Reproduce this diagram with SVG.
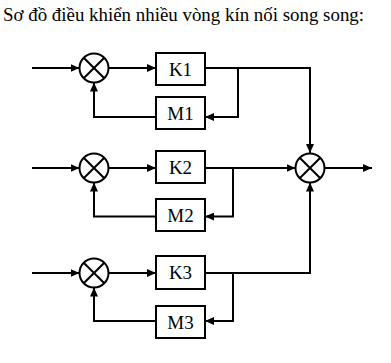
<svg xmlns="http://www.w3.org/2000/svg" width="391" height="363" viewBox="0 0 391 363">
<style>
.ln{fill:none;stroke:#000;stroke-width:2}
.bx{fill:#fff;stroke:#000;stroke-width:2}
.sum{fill:#fff;stroke:#000;stroke-width:2}
.x{stroke:#000;stroke-width:2}
.lb{font-family:"Liberation Serif","Times New Roman",serif;font-size:19px;text-anchor:middle;fill:#000}
.tt{font-family:"Liberation Serif","Times New Roman",serif;font-size:18.9px;fill:#000}
</style>
<defs>
<marker id="ar" viewBox="0 0 9 8" refX="9" refY="4" markerWidth="9" markerHeight="8" markerUnits="userSpaceOnUse" orient="auto">
<path d="M0,0 L9,4 L0,8 z" fill="#000"/>
</marker>
<g id="sx"><circle class="sum" r="14.5"/><line class="x" x1="-10.3" y1="-10.3" x2="10.3" y2="10.3"/><line class="x" x1="-10.3" y1="10.3" x2="10.3" y2="-10.3"/></g>
</defs>
<text class="tt" x="3" y="21">Sơ đồ điều khiển nhiều vòng kín nối song song:</text>
<g id="connectors">
<path class="ln" d="M32,68 H79.5" marker-end="url(#ar)"/>
<path class="ln" d="M108.5,68 H156" marker-end="url(#ar)"/>
<path class="ln" d="M205,68 H310 V153" marker-end="url(#ar)"/>
<path class="ln" d="M238,68 V117 H205" marker-end="url(#ar)"/>
<path class="ln" d="M156,117 H94 V82.5" marker-end="url(#ar)"/>
<path class="ln" d="M32,168 H79.5" marker-end="url(#ar)"/>
<path class="ln" d="M108.5,168 H156" marker-end="url(#ar)"/>
<path class="ln" d="M205,168 H295.5" marker-end="url(#ar)"/>
<path class="ln" d="M233,168 V216.5 H205" marker-end="url(#ar)"/>
<path class="ln" d="M156,216.5 H94 V182.5" marker-end="url(#ar)"/>
<path class="ln" d="M32,273 H79.5" marker-end="url(#ar)"/>
<path class="ln" d="M108.5,273 H156" marker-end="url(#ar)"/>
<path class="ln" d="M205,273 H310 V182.5" marker-end="url(#ar)"/>
<path class="ln" d="M233,273 V321 H205" marker-end="url(#ar)"/>
<path class="ln" d="M156,321 H94 V287.5" marker-end="url(#ar)"/>
<path class="ln" d="M324.5,168 H372" marker-end="url(#ar)"/>
</g>
<g id="s1"><use href="#sx" x="94" y="68"/></g>
<g id="s2"><use href="#sx" x="94" y="168"/></g>
<g id="s3"><use href="#sx" x="94" y="273"/></g>
<g id="sum"><use href="#sx" x="310" y="168"/></g>
<g id="K1"><rect class="bx" x="156" y="53" width="49" height="32"/><text class="lb" x="180.5" y="75.5">K1</text></g>
<g id="M1"><rect class="bx" x="156" y="97" width="49" height="32"/><text class="lb" x="180.5" y="119.5">M1</text></g>
<g id="K2"><rect class="bx" x="156" y="151" width="49" height="32"/><text class="lb" x="180.5" y="173.5">K2</text></g>
<g id="M2"><rect class="bx" x="156" y="199" width="49" height="32"/><text class="lb" x="180.5" y="221.5">M2</text></g>
<g id="K3"><rect class="bx" x="156" y="256" width="49" height="33"/><text class="lb" x="180.5" y="279">K3</text></g>
<g id="M3"><rect class="bx" x="156" y="306" width="49" height="32"/><text class="lb" x="180.5" y="328.5">M3</text></g>
</svg>
